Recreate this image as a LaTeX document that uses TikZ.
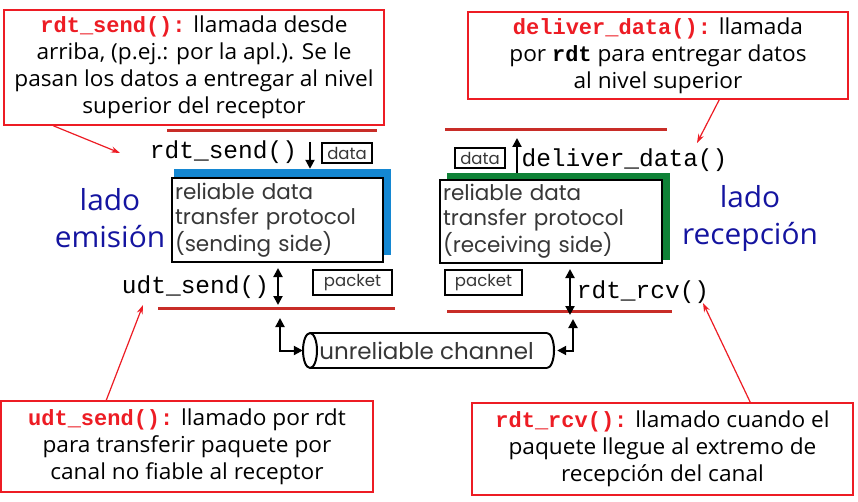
\documentclass[tikz,border=0pt]{standalone}
\usepackage{fontspec}
\setmainfont{Open Sans}
\newfontfamily\comic[FakeStretch=1.03]{Open Sans}
\newfontfamily\geo{Poppins}
\newfontfamily\cour{Liberation Mono}
\usetikzlibrary{arrows.meta}
\definecolor{cred}{RGB}{237,28,36}
\definecolor{lred}{RGB}{200,45,40}
\definecolor{navytxt}{RGB}{20,20,160}
\definecolor{pblue}{RGB}{20,135,210}
\definecolor{pgreen}{RGB}{15,130,55}
\definecolor{ptext}{RGB}{55,55,55}
\newcommand\codered[1]{{\cour\bfseries\color{cred}#1}}
\newcommand\codeblk[1]{{\cour\bfseries #1}}
\tikzset{
  callout/.style={draw=cred, line width=1.5pt, fill=white, align=center, inner sep=0pt,
    font=\comic\fontsize{22}{27}\selectfont},
  pbox/.style={draw=black, line width=2pt, fill=white, align=left, text=ptext,
    inner xsep=3pt, inner ysep=0pt, font=\geo\fontsize{21.5}{25}\selectfont},
  backbox/.style={inner sep=0pt},
  redline/.style={draw=lred, line width=3pt},
  fn/.style={inner sep=0pt, font=\cour\fontsize{24.5}{24.5}\selectfont},
  lbl/.style={draw=black, line width=2pt, inner sep=0pt, text=ptext,
    font=\geo\fontsize{16.5}{16.5}\selectfont},
  arr/.style={line width=2pt, -{Triangle[length=9pt,width=9pt]}},
  darr/.style={line width=2pt, {Triangle[length=9pt,width=9pt]}-{Triangle[length=9pt,width=9pt]}},
  ptr/.style={draw=cred, line width=1.2pt, -{Stealth[length=9pt,width=6pt]}},
  ladotxt/.style={text=navytxt, align=center, inner sep=0pt, font=\comic\fontsize{29}{37}\selectfont},
  cyl/.style={draw=black, line width=2pt},
}
\begin{document}
\begin{tikzpicture}[x=1pt,y=-1pt]
\fill[white] (0,0) rectangle (858,502);
\useasboundingbox (0,0) rectangle (858,502);

% callouts
\node[callout, minimum width=380pt, minimum height=115pt] (tl) at (194,67.5)
  {\codered{rdt\_send():} llamada desde\\arriba, (p.ej.: por la apl.). Se le\\pasan los datos a entregar al nivel\\superior del receptor};
\node[callout, minimum width=380pt, minimum height=87pt] (tr) at (658,55.5)
  {\codered{deliver\_data():} llamada\\por \codeblk{rdt} para entregar datos\\al nivel superior};
\node[callout, minimum width=372pt, minimum height=91pt] (bl) at (187,446.5)
  {\codered{udt\_send():} llamado por rdt\\para transferir paquete por\\canal no fiable al receptor};
\node[callout, minimum width=381pt, minimum height=92pt] (br) at (662.5,449)
  {\codered{rdt\_rcv():} llamado cuando el\\paquete llegue al extremo de\\recepción del canal};

% red layer lines
\draw[redline] (167,131) -- (377,131);
\draw[redline] (445,130) -- (667,130);
\draw[redline] (158,308) -- (395,308);
\draw[redline] (447,311) -- (672,311);

% sending side
\node[backbox, fill=pblue, minimum width=217pt, minimum height=86pt] (sblue) at (282.5,212) {};
\node[pbox, text width=205pt, minimum height=84pt] (sbox) at (277.5,220)
  {reliable data\\transfer protocol\\(sending side)};
% receiving side
\node[backbox, fill=pgreen, minimum width=223pt, minimum height=87pt] (rgreen) at (558.5,216.5) {};
\node[pbox, text width=216pt, minimum height=83pt] (rbox) at (551,221.5)
  {reliable data\\transfer protocol\\(receiving side)};

% labels
\node[lbl, minimum width=50pt, minimum height=20pt] (sdata) at (347,153) {data};
\node[lbl, minimum width=50pt, minimum height=20pt] (rdata) at (480,158) {data};
\node[lbl, minimum width=79pt, minimum height=25pt] (spkt) at (352.5,282.5) {packet};
\node[lbl, minimum width=77pt, minimum height=25pt] (rpkt) at (483.5,282.5) {packet};

% function names
\node[fn] (frdtsend) at (223.5,152) {rdt\_send()};
\node[fn] (fdeliver) at (624.5,160) {deliver\_data()};
\node[fn] (fudtsend) at (195.5,287) {udt\_send()};
\node[fn] (frdtrcv) at (643,292) {rdt\_rcv()};

% lado labels
\node[ladotxt] (lemi) at (110,218.5) {lado\\emisión};
\node[ladotxt] (lrec) at (750,218.5) {lado\\recepción};

% channel (cylinder drawn by hand)
\node[inner sep=0pt, minimum width=251pt, minimum height=35pt, text=ptext,
  font=\geo\fontsize{23}{23}\selectfont] (chan) at (428.5,350.5) {\hspace*{-4pt}unreliable channel};
\draw[cyl] (310,333) -- (547,333);
\draw[cyl] (310,368) -- (547,368);
\draw[cyl] (310,350.5) ellipse [x radius=7pt, y radius=17.5pt];
\draw[cyl] (547,333) arc [start angle=90, end angle=-90, x radius=7pt, y radius=17.5pt];

% arrows
\coordinate (sendsrc) at (310,142);
\draw[arr] (sendsrc) -- (sendsrc |- sblue.north);
\coordinate (recvtip) at (517,138);
\draw[arr] (recvtip |- rgreen.north) -- (recvtip);
\coordinate (sda) at (278,305);
\draw[darr, shorten <=5pt] (sda |- sbox.south) -- (sda);
\coordinate (rda) at (570,315);
\draw[darr, shorten <=5pt] (rda |- rbox.south) -- (rda);
\coordinate (lct) at (280,318);
\draw[darr] (lct) |- (chan.west);
\coordinate (rct) at (573,319);
\draw[darr, shorten >=3pt] (rct) |- (chan.east);

% pointers
\coordinate (p1) at (120,153);
\coordinate (p2) at (697,143);
\coordinate (p3) at (143,305);
\coordinate (p4) at (703,303);
\draw[ptr] ([xshift=50pt]tl.south west) -- (p1);
\draw[ptr] ([xshift=252pt]tr.south west) -- (p2);
\draw[ptr] ([xshift=106pt]bl.north west) -- (p3);
\draw[ptr] ([xshift=279pt]br.north west) -- (p4);
\end{tikzpicture}
\end{document}
